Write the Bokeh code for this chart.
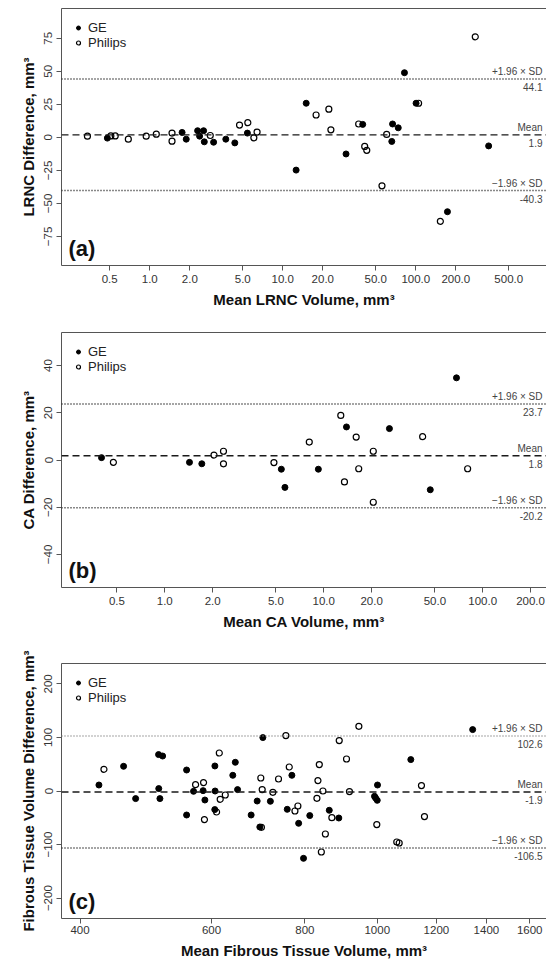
from bokeh.plotting import figure
from bokeh.models import (FixedTicker, CustomJSTickFormatter, Span, Label,
                          Legend, LegendItem, LinearAxis, Range1d)
from bokeh.layouts import column
from bokeh.embed import file_html
from bokeh.resources import INLINE

FONT = "Liberation Sans"
AX = "#555555"
TXT = "#333333"

# ---------------- Panel (a): LRNC ----------------
ge_a_x = [0.48, 1.75, 1.88, 2.29, 2.37, 2.54, 2.57, 3.02, 3.73, 4.36, 5.42,
          12.6, 15.0, 29.9, 39.9, 66.0, 66.9, 73.8, 82.2, 100.5, 173, 353]
ge_a_y = [-0.6, 3.7, -1.4, 5.0, 0.9, 5.0, -3.4, -3.7, -1.4, -4.2, 3.2,
          -24.8, 25.8, -12.6, 9.8, -3.1, 10.1, 7.2, 48.9, 25.8, -56.3, -6.5]
ph_a_x = [0.34, 0.51, 0.55, 0.69, 0.94, 1.12, 1.47, 1.47, 2.85, 4.73, 5.46, 6.06,
          6.41, 17.8, 22.2, 23.0, 37.2, 41.3, 42.8, 55.7, 60.4, 105, 153, 280]
ph_a_y = [0.9, 1.1, 1.1, -1.4, 0.9, 2.4, 3.2, -2.9, 1.4, 9.3, 11.1, -0.4,
          4.0, 16.9, 21.3, 5.7, 10.1, -6.9, -9.8, -36.7, 2.2, 25.8, -63.6, 76.1]
stats_a = [1.9, 44.1, -40.3]          # mean, +1.96 SD, -1.96 SD
xticks_a = [0.5, 1, 2, 5, 10, 20, 50, 100, 200, 500]
yticks_a = [-75, -50, -25, 0, 25, 50, 75]

# ---------------- Panel (b): CA ----------------
ge_b_x = [0.40, 1.43, 1.71, 5.41, 5.70, 9.25, 13.9, 25.9, 46.8, 68.4]
ge_b_y = [1.0, -1.0, -1.6, -3.9, -11.6, -3.9, 14.0, 13.3, -12.6, 34.8]
ph_b_x = [0.475, 2.04, 2.34, 2.34, 4.86, 8.11, 12.8, 13.5, 16.0, 16.6,
          20.5, 20.5, 41.9, 80.4]
ph_b_y = [-1.0, 2.1, 3.7, -1.6, -1.1, 7.6, 18.9, -9.3, 9.7, -3.7,
          3.7, -17.9, 9.9, -3.7]
stats_b = [1.8, 23.7, -20.2]
xticks_b = [0.5, 1, 2, 5, 10, 20, 50, 100, 200]
yticks_b = [-40, -20, 0, 20, 40]

# ---------------- Panel (c): Fibrous tissue ----------------
ge_c_x = [424, 457.5, 474.8, 509.6, 516, 509.9, 511.7, 555.6, 555.6, 567.6,
          584.6, 587.8, 606.2, 606.6, 606, 645.6, 640.6, 650.1, 677.9, 690.6,
          696.3, 702.8, 719.3, 768.6, 757.7, 784.8, 796.7, 812.2, 862.5, 888.3,
          991.6, 995, 1000, 1000.8, 1109, 1342]
ge_c_y = [11.2, 46.1, -14.2, 68.0, 65.3, 4.5, -14.2, 39.2, -44.8, -0.6,
          0.7, -16.8, 46.7, 0.0, -34.7, 53.6, 29.3, 2.6, -44.8, -18.7,
          -67.2, 99.7, -19.2, 29.3, -34.2, -60.3, -125.7, -45.9, -36.0, -50.4,
          -9.9, -13.1, -17.4, 11.2, 58.6, 114.6]
ph_c_x = [430.6, 571.2, 585.4, 587, 614.5, 616.2, 625.9, 609.4, 698.4, 701.4,
          699.7, 724.8, 737.6, 754.5, 762.4, 775.9, 783, 830.3, 832.9, 836.4,
          841.7, 845.8, 852.2, 869.4, 889.4, 909.6, 917.9, 944.9, 998.6, 1062,
          1070, 1146, 1156.7]
ph_c_y = [40.5, 11.9, 15.7, -53.4, 70.9, -15.5, -7.5, -39.2, 24.3, 2.6,
          -67.8, -2.4, 22.4, 103.4, 44.8, -37.3, -28.0, -13.6, 19.4, 49.3,
          -113.9, 0.0, -80.3, -49.7, 94.1, 59.7, -1.1, 120.8, -62.7, -95.2,
          -97.1, 10.1, -47.8]
stats_c = [-1.9, 102.6, -106.5]
xticks_c = [400, 600, 800, 1000, 1200, 1400, 1600]
yticks_c = [-200, -100, 0, 100, 200]


def panel(ge_x, ge_y, ph_x, ph_y, stats, xticks, yticks, xr, yr, xfmt,
          xlabel, ylabel, tag, height, btop, bbottom, upper_color,
          xlab_standoff):
    p = figure(width=546, height=height, x_axis_type="log",
               x_range=Range1d(*xr), y_range=Range1d(*yr),
               output_backend="svg", toolbar_location=None,
               min_border_left=61, min_border_right=0,
               min_border_top=btop, min_border_bottom=bbottom)
    p.grid.visible = False
    p.outline_line_color = None
    p.background_fill_color = "white"

    xa = p.below[0]
    ya = p.left[0]
    for ax in (xa, ya):
        ax.axis_line_color = AX
        ax.major_tick_line_color = AX
        ax.minor_tick_line_color = None
        ax.major_tick_out = 5
        ax.major_tick_in = 0
        ax.major_label_standoff = 4
        ax.major_label_text_font = FONT
        ax.major_label_text_font_size = "11.5px"
        ax.major_label_text_color = TXT
        ax.axis_label_text_font = FONT
        ax.axis_label_text_font_style = "bold"
        ax.axis_label_text_font_size = "15px"
        ax.axis_label_text_color = "#111111"
        ax.axis_label_standoff = 5

    xa.ticker = FixedTicker(ticks=xticks)
    xa.formatter = CustomJSTickFormatter(code=xfmt)
    xa.major_label_standoff = xlab_standoff
    ya.ticker = FixedTicker(ticks=yticks)
    ya.major_label_orientation = "vertical"
    xa.axis_label = xlabel
    ya.axis_label = ylabel

    # top frame line only (the right border lies beyond the picture)
    top = LinearAxis(ticker=FixedTicker(ticks=[]), axis_line_color=AX,
                     major_tick_line_color=None, minor_tick_line_color=None,
                     major_label_text_font_size="0px", major_label_standoff=0,
                     major_tick_out=0, minor_tick_out=0, axis_label=None)
    p.add_layout(top, "above")

    mean, up, lo = stats
    p.add_layout(Span(location=mean, dimension="width", line_color="#1a1a1a",
                      line_dash="7 4", line_width=1.3))
    p.add_layout(Span(location=up, dimension="width", line_color=upper_color,
                      line_dash="1 2", line_width=1.5))
    p.add_layout(Span(location=lo, dimension="width", line_color="#111111",
                      line_dash="1 2", line_width=1.5))

    r_ge = p.scatter(ge_x, ge_y, marker="circle", size=6,
                     fill_color="black", line_color="black")
    r_ph = p.scatter(ph_x, ph_y, marker="circle", size=6,
                     fill_color=None, line_color="black", line_width=1.2)

    lab = dict(x_units="screen", y_units="data", text_align="right",
               text_font=FONT, text_font_size="10px", text_color="#444444")
    xr_px = 481
    p.add_layout(Label(x=xr_px, y=up, text="+1.96 \u00d7 SD",
                       text_baseline="bottom", y_offset=2, **lab))
    p.add_layout(Label(x=xr_px, y=up, text=f"{up:.1f}",
                       text_baseline="top", y_offset=-4, **lab))
    p.add_layout(Label(x=xr_px, y=mean, text="Mean",
                       text_baseline="bottom", y_offset=2, **lab))
    p.add_layout(Label(x=xr_px, y=mean, text=f"{mean:.1f}",
                       text_baseline="top", y_offset=-4, **lab))
    p.add_layout(Label(x=xr_px, y=lo, text="\u22121.96 \u00d7 SD",
                       text_baseline="bottom", y_offset=2, **lab))
    p.add_layout(Label(x=xr_px, y=lo, text=f"{lo:.1f}",
                       text_baseline="top", y_offset=-4, **lab))

    p.add_layout(Label(x=7, y=5, x_units="screen", y_units="screen",
                       text=tag, text_font=FONT, text_font_style="bold",
                       text_font_size="22px", text_baseline="bottom",
                       text_color="#111111"))

    legend = Legend(items=[LegendItem(label="GE", renderers=[r_ge]),
                           LegendItem(label="Philips", renderers=[r_ph])],
                    location="top_left", margin=12, padding=0, spacing=0,
                    glyph_width=10, glyph_height=15, label_height=15,
                    label_standoff=5, label_text_font=FONT,
                    label_text_font_size="13px", label_text_color="#222222",
                    background_fill_alpha=0, border_line_color=None)
    p.add_layout(legend)
    return p


fmt1 = "return tick.toFixed(1);"
fmt0 = "return tick.toFixed(0);"

pa = panel(ge_a_x, ge_a_y, ph_a_x, ph_a_y, stats_a, xticks_a, yticks_a,
           (0.217, 961), (-97, 97.5), fmt1,
           "Mean LRNC Volume, mm\u00b3", "LRNC Difference, mm\u00b3", "(a)",
           322, 8, 57, "#111111", 4)
pb = panel(ge_b_x, ge_b_y, ph_b_x, ph_b_y, stats_b, xticks_b, yticks_b,
           (0.224, 252), (-54, 54), fmt1,
           "Mean CA Volume, mm\u00b3", "CA Difference, mm\u00b3", "(b)",
           323, 10, 58, "#111111", 4)
pc = panel(ge_c_x, ge_c_y, ph_c_x, ph_c_y, stats_c, xticks_c, yticks_c,
           (377.8, 1685), (-238, 238), fmt0,
           "Mean Fibrous Tissue Volume, mm\u00b3",
           "Fibrous Tissue Volume Difference, mm\u00b3", "(c)",
           320, 18, 47, "#888888", 2)

layout = column(pa, pb, pc, spacing=0)
open("out.html", "w").write(file_html(layout, INLINE))
